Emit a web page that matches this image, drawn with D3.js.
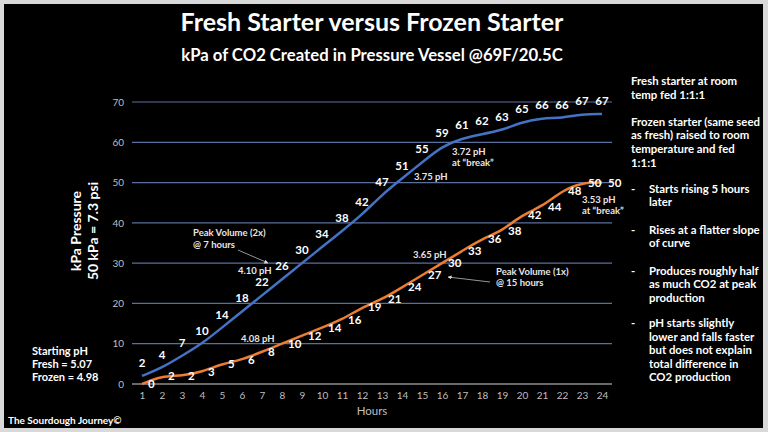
<!DOCTYPE html>
<html><head><meta charset="utf-8">
<script src="https://cdn.jsdelivr.net/npm/d3@7/dist/d3.min.js"></script>
<style>
html,body{margin:0;padding:0;background:#d9d9d9;}
svg{display:block;}
text{font-family:Lato, "Open Sans", sans-serif;}
</style></head>
<body>
<svg id="c" width="768" height="432"></svg>
<script>
const hours = [1,2,3,4,5,6,7,8,9,10,11,12,13,14,15,16,17,18,19,20,21,22,23,24];
const fresh = [2,4,7,10,14,18,22,26,30,34,38,42,47,51,55,59,61,62,63,65,66,66,67,67];
const frozen = [0,2,2,3,5,6,8,10,12,14,16,19,21,24,27,30,33,36,38,42,44,48,50,50];
const yTicks = [0,10,20,30,40,50,60,70];
const titleText = "Fresh Starter versus Frozen Starter";
const subtitleText = "kPa of CO2 Created in Pressure Vessel @69F/20.5C";
const notesTop = ["Fresh starter at room","temp fed 1:1:1","","Frozen starter (same seed","as fresh) raised to room","temperature and fed","1:1:1"];
const bullets = [["Starts rising 5 hours","later"],["Rises at a flatter slope","of curve"],["Produces roughly half","as much CO2 at peak","production"],["pH starts slightly","lower and falls faster","but does not explain","total difference in","CO2 production"]];
const startPh = ["Starting pH","Fresh = 5.07","Frozen = 4.98"];

const svg = d3.select("#c");
svg.append("rect").attr("x",4).attr("y",4).attr("width",759).attr("height",424).attr("fill","#000");

const x = d3.scaleLinear().domain([1,24]).range([142,602]);
const y = d3.scaleLinear().domain([0,70]).range([384,102]);

// grid
svg.append("g").selectAll("line").data(yTicks.filter(d=>d>0)).join("line")
  .attr("x1",132).attr("x2",612).attr("y1",d=>y(d)).attr("y2",d=>y(d))
  .attr("stroke","#5a6f9e").attr("stroke-width",1.2);
svg.append("line").attr("x1",132).attr("x2",612).attr("y1",y(0)).attr("y2",y(0))
  .attr("stroke","#8c8c8c").attr("stroke-width",1.5);

// y axis
const ya = svg.append("g").attr("transform","translate(124,0)")
  .call(d3.axisLeft(y).tickValues(yTicks).tickSize(0).tickPadding(0));
ya.select(".domain").remove();
ya.selectAll("text").attr("fill","#bfbfbf").style("font-size","10px").style("font-family","Lato, sans-serif");

// x axis
const xa = svg.append("g").attr("transform","translate(0,392)")
  .call(d3.axisBottom(x).tickValues(hours).tickSize(0).tickPadding(0).tickFormat(d3.format("d")));
xa.select(".domain").remove();
xa.selectAll("text").attr("fill","#bfbfbf").style("font-size","10px").style("font-family","Lato, sans-serif");

svg.append("text").attr("x",372).attr("y",415).attr("text-anchor","middle")
  .attr("fill","#bfbfbf").style("font-size","11.5px").text("Hours");

// y title
const yt = svg.append("g").attr("transform","translate(0,231) rotate(-90)");
yt.append("text").attr("x",0).attr("y",81).attr("text-anchor","middle").attr("fill","#fff")
  .style("font-size","14px").style("font-weight","bold").text("kPa Pressure");
yt.append("text").attr("x",0).attr("y",98).attr("text-anchor","middle").attr("fill","#fff")
  .style("font-size","14px").style("font-weight","bold").text("50 kPa = 7.3 psi");

// lines
const line = d3.line().x((d,i)=>x(hours[i])).y(d=>y(d)).curve(d3.curveBasis);
svg.append("path").attr("d",line(fresh)).attr("fill","none").attr("stroke","#4472c4").attr("stroke-width",2.5);
svg.append("path").attr("d",line(frozen)).attr("fill","none").attr("stroke","#ed7d31").attr("stroke-width",2.5);

// labels
svg.append("g").selectAll("text").data(fresh).join("text")
  .attr("x",(d,i)=>x(hours[i])).attr("y",d=>y(d)-9).attr("text-anchor","middle")
  .attr("fill","#fff").style("font-size","11.5px").style("font-weight","bold").text(d=>d);
svg.append("g").selectAll("text").data(frozen).join("text")
  .attr("x",(d,i)=>x(hours[i])+6).attr("y",d=>y(d)+4).attr("text-anchor","start")
  .attr("fill","#fff").style("font-size","11.5px").style("font-weight","bold").text(d=>d);

// titles
svg.append("text").attr("x",372).attr("y",31).attr("text-anchor","middle").attr("fill","#fff")
  .style("font-size","25px").style("font-weight","bold").text(titleText);
svg.append("text").attr("x",372).attr("y",61).attr("text-anchor","middle").attr("fill","#fff")
  .style("font-size","16.7px").style("font-weight","bold").text(subtitleText);

// annotations
const ann = [
  [193,236,"Peak Volume (2x)"],[193,248,"@ 7 hours"],
  [238,274,"4.10 pH"],[241,342,"4.08 pH"],
  [414,180,"3.75 pH"],[452,155,"3.72 pH"],[452,166,"at \u201cbreak\u201d"],
  [582,203,"3.53 pH"],[582,214,"at \u201cbreak\u201d"],
  [413,258,"3.65 pH"],[496,275,"Peak Volume (1x)"],[496,286,"@ 15 hours"]
];
svg.append("g").selectAll("text").data(ann).join("text")
  .attr("x",d=>d[0]).attr("y",d=>d[1]).attr("fill","#e6e6e6")
  .style("font-size","9.5px").style("font-weight","bold").text(d=>d[2]);

const defs = svg.append("defs");
defs.append("marker").attr("id","ah").attr("viewBox","0 0 10 10").attr("refX",9).attr("refY",5)
  .attr("markerWidth",5).attr("markerHeight",5).attr("orient","auto")
  .append("path").attr("d","M0,0L10,5L0,10z").attr("fill","#ddd");
svg.append("line").attr("x1",238).attr("y1",250).attr("x2",268).attr("y2",263)
  .attr("stroke","#bbb").attr("stroke-width",0.8).attr("marker-end","url(#ah)");
svg.append("line").attr("x1",490).attr("y1",282).attr("x2",448).attr("y2",277)
  .attr("stroke","#bbb").attr("stroke-width",0.8).attr("marker-end","url(#ah)");

// right notes
const rn = svg.append("g").attr("fill","#fff").style("font-size","11.4px").style("font-weight","bold");
notesTop.forEach((t,i)=>{ if(t) rn.append("text").attr("x",631).attr("y",85+i*13.6).text(t); });
const bStart = [192.5, 233.5, 274.5, 327];
bullets.forEach((b,bi)=>{
  rn.append("text").attr("x",631).attr("y",bStart[bi]).text("-");
  b.forEach((t,i)=>rn.append("text").attr("x",649).attr("y",bStart[bi]+i*13.5).text(t));
});

// starting pH
const sp = svg.append("g").attr("fill","#fff").style("font-size","11px").style("font-weight","bold");
startPh.forEach((t,i)=>sp.append("text").attr("x",32).attr("y",354.5+i*13.2).text(t));
svg.append("text").attr("x",8).attr("y",424).attr("fill","#fff").style("font-size","10px")
  .style("font-weight","bold").text("The Sourdough Journey\u00a9");
</script>
</body></html>
